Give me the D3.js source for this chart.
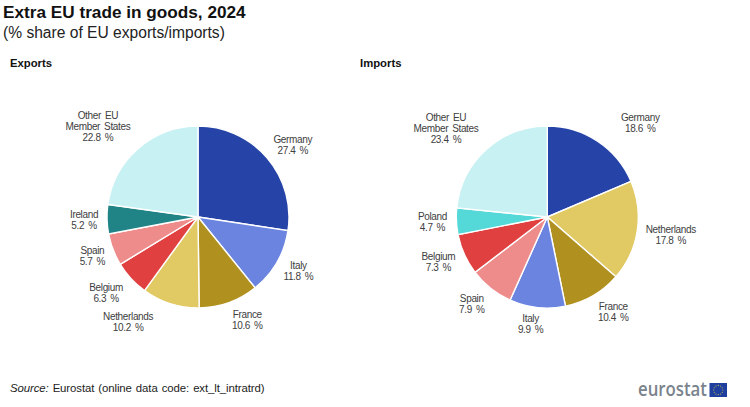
<!DOCTYPE html>
<html>
<head>
<meta charset="UTF-8">
<title>Extra EU trade in goods, 2024</title>
<script src="https://cdn.jsdelivr.net/npm/d3@7"></script>
<style type="text/css">
	body { margin:0; background-color:white; }
	svg { display:block; font-family:"Liberation Sans",Arial,sans-serif; }
	.lbl { font-size:10px; fill:#404040; text-anchor:middle; letter-spacing:-0.35px; word-spacing:1.6px; }
</style>
</head>
<body>
<script type="text/javascript">

var exportCountries = ['Germany','Italy','France','Netherlands','Belgium','Spain','Ireland','Other EU|Member States'];
var exportValues = [27.4,11.8,10.6,10.2,6.3,5.7,5.2,22.8];

var importCountries = ['Germany','Netherlands','France','Italy','Spain','Belgium','Poland','Other EU|Member States'];
var importValues = [18.6,17.8,10.4,9.9,7.9,7.3,4.7,23.4];

var allCountries = ['Germany','Italy','France','Netherlands','Belgium','Spain','Ireland','Poland','Other EU|Member States'];
var countryColors = ['#2644a7','#6a84e0','#b09120','#e1c963','#e04040','#ee8b8b','#208486','#55d8d8','#c8f1f3'];

// label placement, nudged from a common label ring
var exportNudges = [[0,9],[-8,-8],[7,-15],[-32,-14],[0,-9],[11,-6],[11,0],[-18,4]];
var importNudges = [[24,10],[0,-2],[3,-13],[-3,-17],[2,-11],[5,-6.5],[10,-1],[-17.5,4]];

var large = 750, haut = 407, rayon = 91, cy = 217;

var color = d3.scaleOrdinal().domain(allCountries).range(countryColors);

var svg = d3.select('body').append('svg')
	.attr('width',large)
	.attr('height',haut);

svg.append('text').attr('x',3).attr('y',18)
	.style('font-size','17.2px').style('font-weight','bold').attr('fill','#111')
	.text('Extra EU trade in goods, 2024');
svg.append('text').attr('x',3).attr('y',38)
	.style('font-size','15.6px').attr('fill','#222')
	.text('(% share of EU exports/imports)');

var pie = d3.pie().sort(null).value(function(d){ return d.v; });
var arc = d3.arc().innerRadius(0).outerRadius(rayon);
var ring = d3.arc().innerRadius(125).outerRadius(125);

function drawPie(titre, titreX, cx, countries, values, nudges) {
	svg.append('text').attr('x',titreX).attr('y',67)
		.style('font-size','11.3px').style('font-weight','bold').attr('fill','#111')
		.text(titre);

	var rows = countries.map(function(c,i){ return {c:c, v:values[i], n:nudges[i]}; });
	var g = svg.append('g').attr('transform','translate('+cx+','+cy+')');

	g.selectAll('.part').data(pie(rows)).enter().append('path')
		.attr('class','part')
		.attr('d',arc)
		.attr('fill',function(d){ return color(d.data.c); })
		.attr('stroke','white')
		.attr('stroke-width',1.4);

	g.selectAll('.lbl').data(pie(rows)).enter().append('text')
		.attr('class','lbl')
		.each(function(d){
			var p = ring.centroid(d);
			var lines = d.data.c.split('|').concat([d.data.v.toFixed(1)+' %']);
			var top = p[1] + d.data.n[1] - (lines.length-1)*11/2 + 3.5;
			var t = d3.select(this);
			lines.forEach(function(l,i){
				t.append('tspan')
					.attr('x',p[0]+d.data.n[0])
					.attr('y',top+i*11)
					.text(l);
			});
		});
}

drawPie('Exports',10,198,exportCountries,exportValues,exportNudges);
drawPie('Imports',360,547.3,importCountries,importValues,importNudges);

// source line
var src = svg.append('text').attr('x',10).attr('y',392)
	.style('font-size','11.4px').attr('fill','#222')
	.style('letter-spacing','-0.1px').style('word-spacing','1px');
src.append('tspan').style('font-style','italic').text('Source:');
src.append('tspan').text(' Eurostat (online data code: ext_lt_intratrd)');

// eurostat logo
svg.append('text').attr('x',638).attr('y',396)
	.attr('textLength',69).attr('lengthAdjust','spacingAndGlyphs')
	.style('font-family','"Open Sans",sans-serif')
	.style('font-size','19px').style('font-weight','600').attr('fill','#7a838c')
	.text('eurostat');
var flag = svg.append('g').attr('transform','translate(709.5,383)');
flag.append('rect').attr('width',17.5).attr('height',14).attr('fill','#1f3f9e');
d3.range(12).forEach(function(i){
	var a = i/12*2*Math.PI;
	flag.append('circle')
		.attr('cx',8.75+4.6*Math.cos(a))
		.attr('cy',7+4.6*Math.sin(a))
		.attr('r',0.55)
		.attr('fill','#d9c84a');
});

</script>
</body>
</html>
